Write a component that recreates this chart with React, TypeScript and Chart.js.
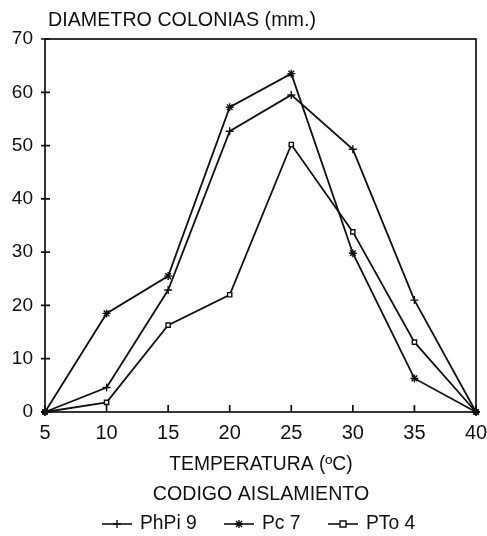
import React, { useEffect, useRef } from "react";
import { Chart, registerables } from "chart.js";

Chart.register(...registerables);

const TEMPS = [5, 10, 15, 20, 25, 30, 35, 40];
const PHPI9 = [0, 4.6, 22.9, 52.7, 59.5, 49.3, 21, 0];
const PC7 = [0, 18.5, 25.5, 57.2, 63.5, 29.8, 6.3, 0];
const PTO4 = [0, 1.8, 16.3, 22, 50.2, 33.8, 13.1, 0];
const SERIES_NAMES = ["PhPi 9", "Pc 7", "PTo 4"];
const POINT_STYLES = ["cross", "star", "rect"];
const Y_TICKS = [0, 10, 20, 30, 40, 50, 60, 70];

const TITLE = "DIAMETRO COLONIAS (mm.)";
const X_TITLE = "TEMPERATURA (ºC)";
const LEGEND_TITLE = "CODIGO AISLAMIENTO";

const FONT = "'Liberation Sans', Arial, Helvetica, sans-serif";
const INK = "#111";

function drawMarker(ctx: CanvasRenderingContext2D, style: string, x: number, y: number) {
  ctx.save();
  ctx.strokeStyle = INK;
  ctx.lineWidth = 1.4;
  ctx.beginPath();
  if (style === "cross") {
    ctx.moveTo(x - 4, y);
    ctx.lineTo(x + 4, y);
    ctx.moveTo(x, y - 4);
    ctx.lineTo(x, y + 4);
    ctx.stroke();
  } else if (style === "star") {
    ctx.moveTo(x - 4, y);
    ctx.lineTo(x + 4, y);
    ctx.moveTo(x, y - 4);
    ctx.lineTo(x, y + 4);
    ctx.moveTo(x - 3, y - 3);
    ctx.lineTo(x + 3, y + 3);
    ctx.moveTo(x - 3, y + 3);
    ctx.lineTo(x + 3, y - 3);
    ctx.stroke();
  } else {
    ctx.fillStyle = "#fff";
    ctx.rect(x - 3, y - 3, 6, 6);
    ctx.fill();
    ctx.stroke();
  }
  ctx.restore();
}

const decorPlugin = {
  id: "decor",
  afterDraw(chart: any) {
    const ctx: CanvasRenderingContext2D = chart.ctx;
    const { left, right, top, bottom } = chart.chartArea;
    const xs = chart.scales.x;
    const ys = chart.scales.y;
    ctx.save();
    ctx.strokeStyle = INK;
    ctx.lineWidth = 1.7;
    ctx.strokeRect(left, top, right - left, bottom - top);
    ctx.beginPath();
    for (const v of Y_TICKS) {
      const y = ys.getPixelForValue(v);
      ctx.moveTo(left - 4, y);
      ctx.lineTo(left + 5, y);
    }
    for (const t of TEMPS) {
      const x = xs.getPixelForValue(t);
      ctx.moveTo(x, bottom);
      ctx.lineTo(x, bottom - 7);
    }
    ctx.stroke();

    ctx.fillStyle = INK;
    ctx.font = `19.7px ${FONT}`;
    ctx.textBaseline = "middle";
    ctx.textAlign = "left";
    ctx.fillText(TITLE, 48, 21);
    ctx.textAlign = "center";
    const cx = 261;
    ctx.font = `19.3px ${FONT}`;
    ctx.fillText(X_TITLE, cx, 465);
    ctx.font = `19.6px ${FONT}`;
    ctx.fillText(LEGEND_TITLE, cx, 495);

    ctx.font = `19.3px ${FONT}`;
    const legendY = 524;
    const symStarts = [102, 224, 328];
    ctx.textAlign = "left";
    SERIES_NAMES.forEach((name, i) => {
      const x0 = symStarts[i];
      const x1 = x0 + 30;
      ctx.beginPath();
      ctx.lineWidth = 1.6;
      ctx.moveTo(x0, legendY);
      ctx.lineTo(x1, legendY);
      ctx.stroke();
      drawMarker(ctx, POINT_STYLES[i], (x0 + x1) / 2, legendY);
      ctx.fillStyle = INK;
      ctx.fillText(name, x1 + 8, legendY);
    });
    ctx.restore();
  },
};

export default function App() {
  const ref = useRef<HTMLCanvasElement>(null);
  useEffect(() => {
    document.body.style.margin = "0";
    const ds = (label: string, data: number[], style: string) => ({
      label,
      data: TEMPS.map((t, i) => ({ x: t, y: data[i] })),
      borderColor: INK,
      borderWidth: 1.8,
      pointStyle: style,
      pointRadius: style === "rect" ? 3 : 4,
      pointBorderColor: INK,
      pointBackgroundColor: "#fff",
      pointBorderWidth: 1.4,
      tension: 0,
      clip: false as any,
    });
    const chart = new Chart(ref.current!, {
      type: "line",
      data: {
        datasets: [
          ds(SERIES_NAMES[0], PHPI9, POINT_STYLES[0]),
          ds(SERIES_NAMES[1], PC7, POINT_STYLES[1]),
          ds(SERIES_NAMES[2], PTO4, POINT_STYLES[2]),
        ],
      },
      options: {
        responsive: false,
        animation: false,
        layout: { padding: { left: 0, top: 39, right: 11, bottom: 0 } },
        plugins: { legend: { display: false }, tooltip: { enabled: false }, title: { display: false } },
        scales: {
          x: {
            type: "linear",
            min: 5,
            max: 40,
            grid: { display: false, drawTicks: false },
            border: { display: false },
            ticks: {
              stepSize: 5,
              color: INK,
              padding: 9,
              font: { family: FONT, size: 20 },
              maxRotation: 0,
            },
            afterFit(scale: any) {
              scale.height = 124;
              scale.paddingLeft = 0;
              scale.paddingRight = 0;
            },
          },
          y: {
            min: 0,
            max: 70,
            grid: { display: false, drawTicks: false },
            border: { display: false },
            ticks: {
              stepSize: 10,
              color: INK,
              padding: 12,
              font: { family: FONT, size: 19 },
            },
            afterFit(scale: any) {
              scale.width = 45;
              scale.paddingTop = 0;
              scale.paddingBottom = 0;
            },
          },
        },
      },
      plugins: [decorPlugin],
    });
    return () => chart.destroy();
  }, []);
  return <canvas ref={ref} width={487} height={536} style={{ display: "block" }} />;
}
